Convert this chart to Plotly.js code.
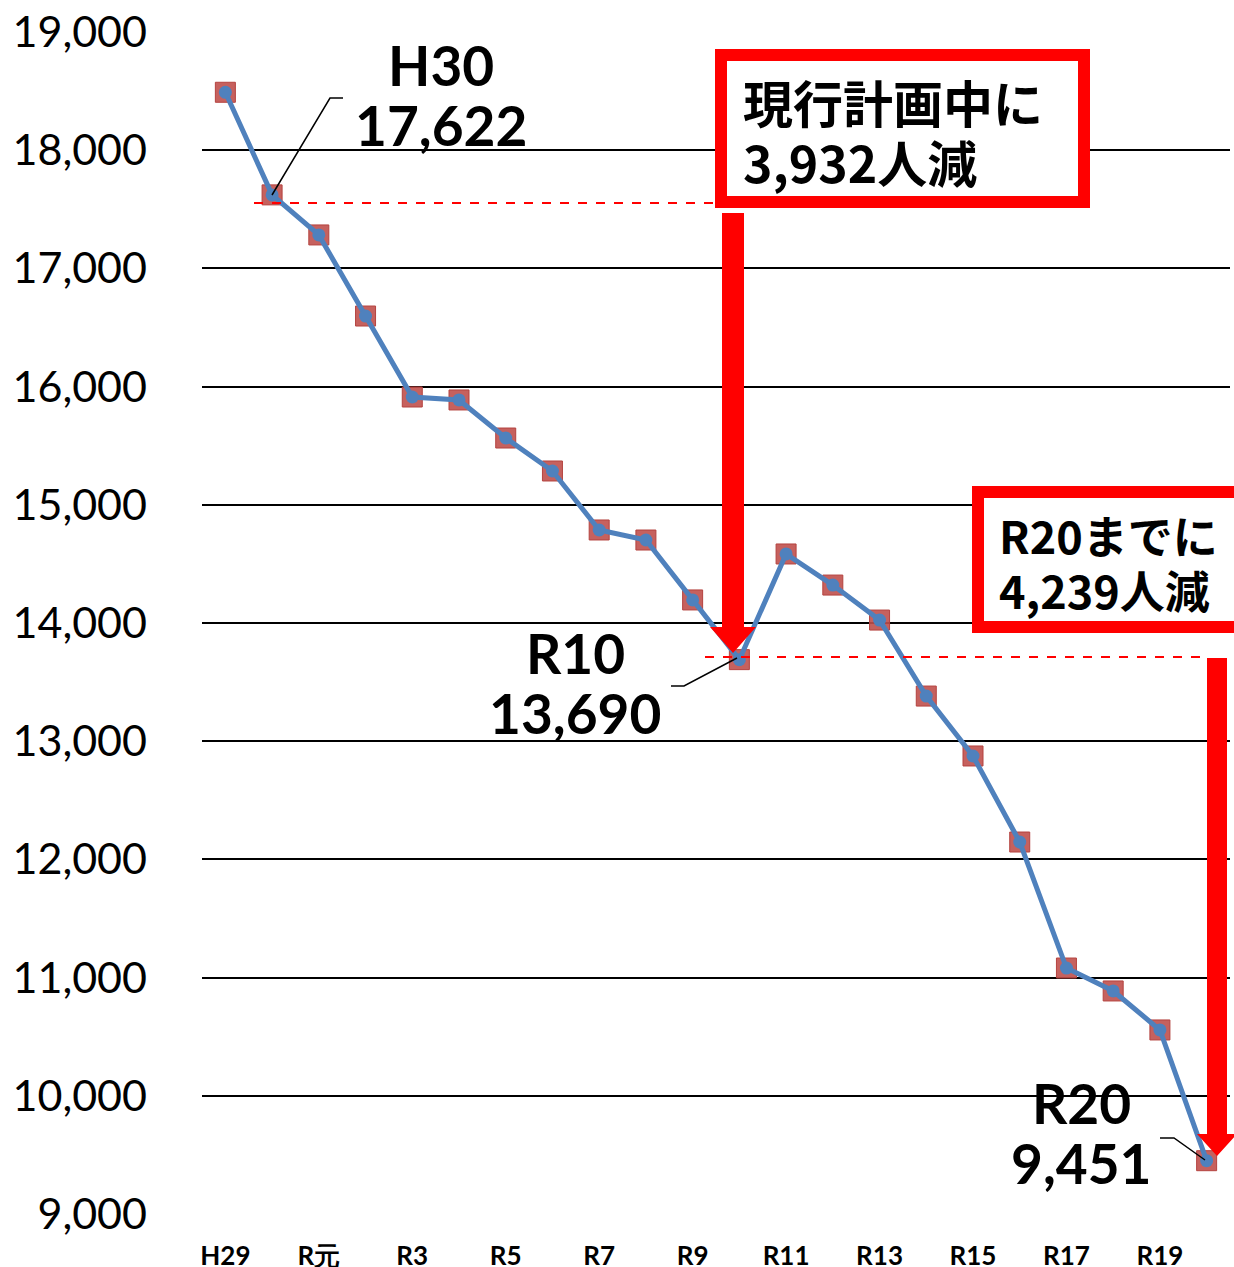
<!DOCTYPE html>
<html><head><meta charset="utf-8">
<script src="https://cdn.plot.ly/plotly-3.0.1.min.js"></script>
<style>html,body{margin:0;padding:0;background:#fff}#chart{width:1234px;height:1267px}</style>
</head><body><div id="chart"></div>
<script>
const categories = ['H29','H30','R元','R2','R3','R4','R5','R6','R7','R8','R9','R10','R11','R12','R13','R14','R15','R16','R17','R18','R19','R20'];
const values = [18490,17622,17283,16597,15912,15887,15565,15286,14787,14702,14195,13690,14584,14321,14025,13382,12875,12147,11081,10887,10557,9451];
const tickLabels = ['H29','R元','R3','R5','R7','R9','R11','R13','R15','R17','R19'];
const yTicks = [9000,10000,11000,12000,13000,14000,15000,16000,17000,18000,19000];
const box1Lines = ['現行計画中に','3,932人減'];
const box2Lines = ['R20までに','4,239人減'];
const callouts = [
  {cat:'H30', name:'H30', val:'17,622'},
  {cat:'R10', name:'R10', val:'13,690'},
  {cat:'R20', name:'R20', val:'9,451'}
];

// layout geometry (pixels)
const W=1234,H=1267, L=202, R=4, T=32, B=53;
const PW=W-L-R, PH=H-T-B;
const px = x => (x-L)/PW;
const py = y => (H-B-y)/PH;

const red='#FF0000';
const shapes=[];
const annotations=[];
// dashed lines
shapes.push({type:'line',xref:'paper',yref:'paper',x0:px(254),x1:px(716),y0:py(203),y1:py(203),line:{color:red,width:2,dash:'dash'}});
shapes.push({type:'line',xref:'paper',yref:'paper',x0:px(705),x1:px(1208),y0:py(657),y1:py(657),line:{color:red,width:2,dash:'dash'}});
// arrows
function arrow(cx,top,headY,tip,bw,hw){
  const p=`M${px(cx-bw/2)},${py(top)} L${px(cx+bw/2)},${py(top)} L${px(cx+bw/2)},${py(headY)} L${px(cx+hw/2)},${py(headY)} L${px(cx)},${py(tip)} L${px(cx-hw/2)},${py(headY)} L${px(cx-bw/2)},${py(headY)} Z`;
  shapes.push({type:'path',xref:'paper',yref:'paper',path:p,fillcolor:red,line:{width:0}});
}
arrow(733,213,627,653,22,46);
arrow(1217,658,1134,1156,20,40);
// boxes
shapes.push({type:'rect',xref:'paper',yref:'paper',x0:px(721),x1:px(1084),y0:py(55),y1:py(202),fillcolor:'#fff',line:{color:red,width:12}});
shapes.push({type:'rect',xref:'paper',yref:'paper',x0:px(978),x1:px(1240),y0:py(492),y1:py(627),fillcolor:'#fff',line:{color:red,width:12}});
// leader lines
function leader(pts){
  const p=pts.map((q,i)=>(i?'L':'M')+px(q[0])+','+py(q[1])).join(' ');
  shapes.push({type:'path',xref:'paper',yref:'paper',path:p,line:{color:'#000',width:1.5}});
}
leader([[272,195],[330,98],[343,98]]);
leader([[737,658],[684,686],[671,686]]);
leader([[1205,1160],[1174,1138],[1160,1138]]);

const cjk='"Noto Sans CJK JP", sans-serif';
function txt(x,y,t,size,anchor,fam,weight){
  annotations.push({xref:'paper',yref:'paper',x:px(x),y:py(y),text:t,showarrow:false,xanchor:anchor,yanchor:'middle',font:{family:fam,size:size,color:'#000',weight:weight}});
}
txt(741,101,box1Lines[0],50,'left',cjk,700);
txt(741,161,box1Lines[1],50,'left',cjk,700);
txt(997,534,box2Lines[0],45,'left',cjk,700);
txt(997,589,box2Lines[1],45,'left',cjk,700);
const calloutPos=[[441,65,125],[575,653,713],[1081,1103,1163]];
callouts.forEach((c,i)=>{
  const [x,y1,y2]=calloutPos[i];
  txt(x,y1,c.name,55,'center','Lato, sans-serif',700);
  txt(x,y2,c.val,55,'center','Lato, sans-serif',700);
});

const traces=[
  {x:categories,y:values,type:'scatter',mode:'markers',hoverinfo:'skip',
   marker:{symbol:'square',size:20,color:'rgba(192,80,77,0.9)',line:{color:'#B4433F',width:1}}},
  {x:categories,y:values,type:'scatter',mode:'lines+markers',
   line:{color:'#4F81BD',width:5},marker:{symbol:'circle',size:13,color:'#4F81BD'}}
];
const layout={
  width:W,height:H,margin:{l:L,r:R,t:T,b:B},showlegend:false,
  paper_bgcolor:'#fff',plot_bgcolor:'#fff',
  xaxis:{type:'category',range:[-0.5,21.5],tickmode:'array',tickvals:tickLabels,ticktext:tickLabels,
    showgrid:false,zeroline:false,showline:false,ticks:'',ticklabelstandoff:24,
    tickfont:{family:'Lato, sans-serif',size:26,color:'#000',weight:700}},
  yaxis:{range:[9000,19000],tickmode:'array',tickvals:yTicks,ticktext:yTicks.map(v=>v.toLocaleString('en-US')),
    showgrid:true,gridcolor:'#000',gridwidth:2,zeroline:false,showline:false,ticks:'',ticklabelstandoff:54,
    tickfont:{family:'Lato, sans-serif',size:43,color:'#000'}},
  shapes:shapes,annotations:annotations
};
Plotly.newPlot('chart',traces,layout,{staticPlot:true});
</script></body></html>
